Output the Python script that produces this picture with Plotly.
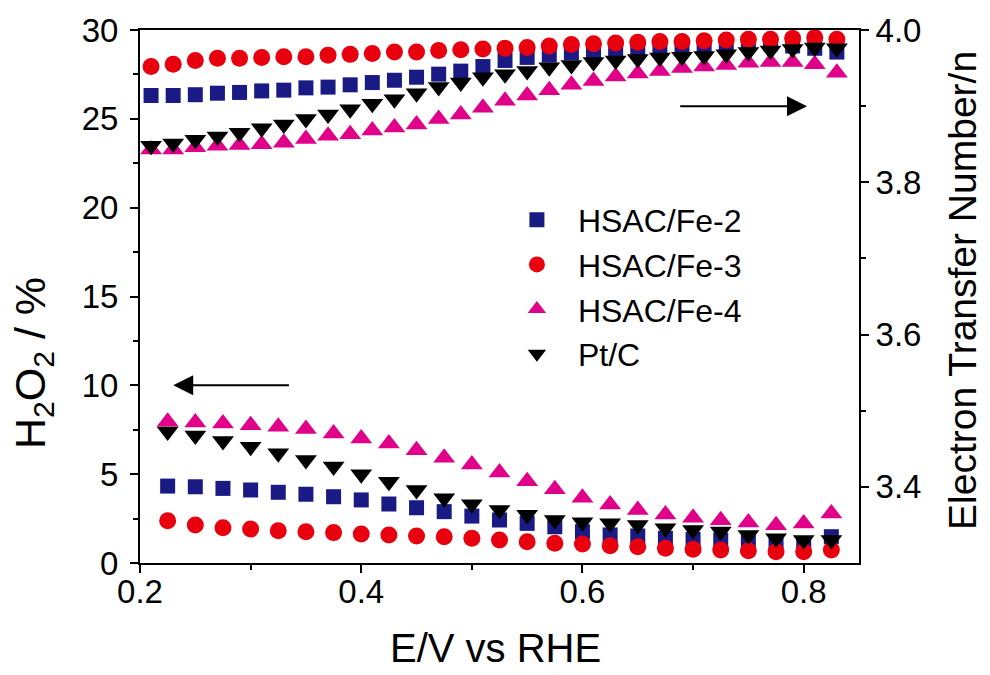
import plotly.graph_objects as go

# ---- data -------------------------------------------------------------
# electron transfer number (right axis)
E_n = [0.21, 0.23, 0.25, 0.27, 0.29, 0.31, 0.33, 0.35, 0.37, 0.39, 0.41, 0.43,
       0.45, 0.47, 0.49, 0.51, 0.53, 0.55, 0.57, 0.59, 0.61, 0.63, 0.65, 0.67,
       0.69, 0.71, 0.73, 0.75, 0.77, 0.79, 0.81, 0.83]
n_fe2 = [3.914, 3.914, 3.915, 3.917, 3.918, 3.920, 3.921, 3.924, 3.925, 3.928, 3.931, 3.934,
         3.938, 3.942, 3.946, 3.952, 3.960, 3.964, 3.967, 3.970, 3.972, 3.974, 3.976, 3.977,
         3.979, 3.979, 3.981, 3.982, 3.982, 3.979, 3.976, 3.971]
n_fe3 = [3.952, 3.955, 3.960, 3.963, 3.963, 3.964, 3.965, 3.965, 3.967, 3.968, 3.969, 3.971,
         3.971, 3.973, 3.974, 3.975, 3.976, 3.977, 3.979, 3.981, 3.982, 3.983, 3.984, 3.985,
         3.985, 3.986, 3.987, 3.988, 3.988, 3.989, 3.990, 3.988]
n_fe4 = [3.843, 3.843, 3.846, 3.848, 3.849, 3.850, 3.852, 3.857, 3.861, 3.863, 3.868, 3.872,
         3.876, 3.883, 3.889, 3.898, 3.907, 3.914, 3.921, 3.928, 3.933, 3.939, 3.943, 3.946,
         3.950, 3.952, 3.954, 3.957, 3.958, 3.958, 3.955, 3.944]
n_pt = [3.848, 3.851, 3.856, 3.860, 3.865, 3.871, 3.876, 3.883, 3.889, 3.896, 3.903, 3.909,
        3.917, 3.925, 3.931, 3.938, 3.942, 3.946, 3.951, 3.954, 3.958, 3.960, 3.962, 3.964,
        3.965, 3.966, 3.968, 3.971, 3.973, 3.975, 3.977, 3.976]

# H2O2 yield (left axis)
E_h = [0.225, 0.25, 0.275, 0.30, 0.325, 0.35, 0.375, 0.40, 0.425, 0.45, 0.475, 0.50,
       0.525, 0.55, 0.575, 0.60, 0.625, 0.65, 0.675, 0.70, 0.725, 0.75, 0.775, 0.80, 0.825]
h_fe2 = [4.33, 4.29, 4.20, 4.11, 3.98, 3.87, 3.73, 3.55, 3.32, 3.11, 2.89, 2.64,
         2.42, 2.23, 2.04, 1.76, 1.58, 1.52, 1.39, 1.33, 1.29, 1.20, 1.11, 1.07, 1.48]
h_fe3 = [2.38, 2.14, 1.99, 1.91, 1.82, 1.76, 1.71, 1.63, 1.58, 1.52, 1.48, 1.39,
         1.29, 1.20, 1.11, 1.07, 0.97, 0.92, 0.83, 0.77, 0.73, 0.69, 0.64, 0.64, 0.73]
h_fe4 = [7.95, 7.91, 7.85, 7.76, 7.67, 7.54, 7.29, 7.01, 6.73, 6.35, 5.92, 5.54,
         5.09, 4.60, 4.15, 3.67, 3.29, 2.98, 2.73, 2.54, 2.41, 2.28, 2.13, 2.22, 2.79]
h_pt = [7.40, 7.17, 6.87, 6.55, 6.18, 5.80, 5.43, 5.00, 4.58, 4.11, 3.65, 3.31,
        2.99, 2.71, 2.42, 2.29, 2.24, 2.14, 1.96, 1.86, 1.77, 1.58, 1.39, 1.30, 1.30]

names = ["HSAC/Fe-2", "HSAC/Fe-3", "HSAC/Fe-4", "Pt/C"]
colors = ["#1a1a84", "#e8000e", "#e0008a", "#000000"]
symbols = ["square", "circle", "triangle-up", "triangle-down"]
sizes = [15, 17, 19, 19]

x_ticks = [0.2, 0.4, 0.6, 0.8]
x_ticktext = ["0.2", "0.4", "0.6", "0.8"]
y2_ticks = [3.4, 3.6, 3.8, 4.0]
y2_ticktext = ["3.4", "3.6", "3.8", "4.0"]

x_title = "E/V vs RHE"
y_title = "H<sub>2</sub>O<sub>2</sub> / %"
y2_title = "Electron Transfer Number/n"

FONT = "Liberation Sans, Arial, sans-serif"

fig = go.Figure()
n_series = [n_fe2, n_fe3, n_fe4, n_pt]
h_series = [h_fe2, h_fe3, h_fe4, h_pt]
for i in range(4):
    fig.add_trace(go.Scatter(
        x=E_n, y=n_series[i], mode="markers", name=names[i], yaxis="y2",
        legendgroup=names[i], showlegend=True,
        marker=dict(symbol=symbols[i], color=colors[i], size=sizes[i], line=dict(width=0)),
    ))
for i in range(4):
    fig.add_trace(go.Scatter(
        x=E_h, y=h_series[i], mode="markers", name=names[i], yaxis="y",
        legendgroup=names[i], showlegend=False,
        marker=dict(symbol=symbols[i], color=colors[i], size=sizes[i], line=dict(width=0)),
    ))

axis_common = dict(
    showline=True, linecolor="black", linewidth=2, ticks="outside", ticklen=8,
    tickwidth=2, tickcolor="black", showgrid=False, zeroline=False, automargin=False,
    tickfont=dict(family=FONT, size=33, color="black"),
)
minor_common = dict(ticks="outside", ticklen=5, tickwidth=2, tickcolor="black")

fig.update_layout(
    width=990, height=675,
    margin=dict(l=140, r=131, t=30, b=112),
    paper_bgcolor="white", plot_bgcolor="white",
    font=dict(family=FONT, color="black"),
    xaxis=dict(
        range=[0.2, 0.85], tickvals=x_ticks, ticktext=x_ticktext, mirror=True,
        minor=dict(tickvals=[0.3, 0.5, 0.7], **minor_common),
        ticklabelstandoff=-10,
        **axis_common,
    ),
    yaxis=dict(
        range=[0, 30], tickvals=[0, 5, 10, 15, 20, 25, 30],
        minor=dict(tickvals=[2.5, 7.5, 12.5, 17.5, 22.5, 27.5], **minor_common),
        ticklabelstandoff=5,
        **axis_common,
    ),
    yaxis2=dict(
        range=[3.3, 4.0], overlaying="y", side="right",
        tickvals=y2_ticks, ticktext=y2_ticktext,
        minor=dict(tickvals=[3.5, 3.7, 3.9], **minor_common),
        **axis_common,
    ),
    legend=dict(
        x=0.495, y=0.695, xanchor="left", yanchor="top",
        font=dict(family=FONT, size=32, color="black"),
        bgcolor="rgba(0,0,0,0)", borderwidth=0, itemsizing="trace",
        tracegroupgap=0, itemwidth=72,
    ),
    annotations=[
        dict(x=0.23, y=10, ax=0.336, ay=10, xref="x", yref="y", axref="x", ayref="y",
             text="", showarrow=True, arrowhead=2, arrowsize=2, arrowwidth=2, arrowcolor="black"),
        dict(x=0.803, y=3.9, ax=0.687, ay=3.9, xref="x", yref="y2", axref="x", ayref="y2",
             text="", showarrow=True, arrowhead=2, arrowsize=2, arrowwidth=2, arrowcolor="black"),
        dict(text=x_title, xref="paper", yref="paper", x=0.495, y=-0.160,
             xanchor="center", yanchor="middle", showarrow=False,
             font=dict(family=FONT, size=40, color="black")),
        dict(text=y_title, xref="paper", yref="paper", x=-0.149, y=0.375, textangle=-90,
             xanchor="center", yanchor="middle", showarrow=False,
             font=dict(family=FONT, size=43, color="black")),
        dict(text=y2_title, xref="paper", yref="paper", x=1.143, y=0.512, textangle=-90,
             xanchor="center", yanchor="middle", showarrow=False,
             font=dict(family=FONT, size=39, color="black")),
    ],
)

fig.write_html("out.html", config={"displayModeBar": False},
               post_script="document.body.style.margin='0';")
